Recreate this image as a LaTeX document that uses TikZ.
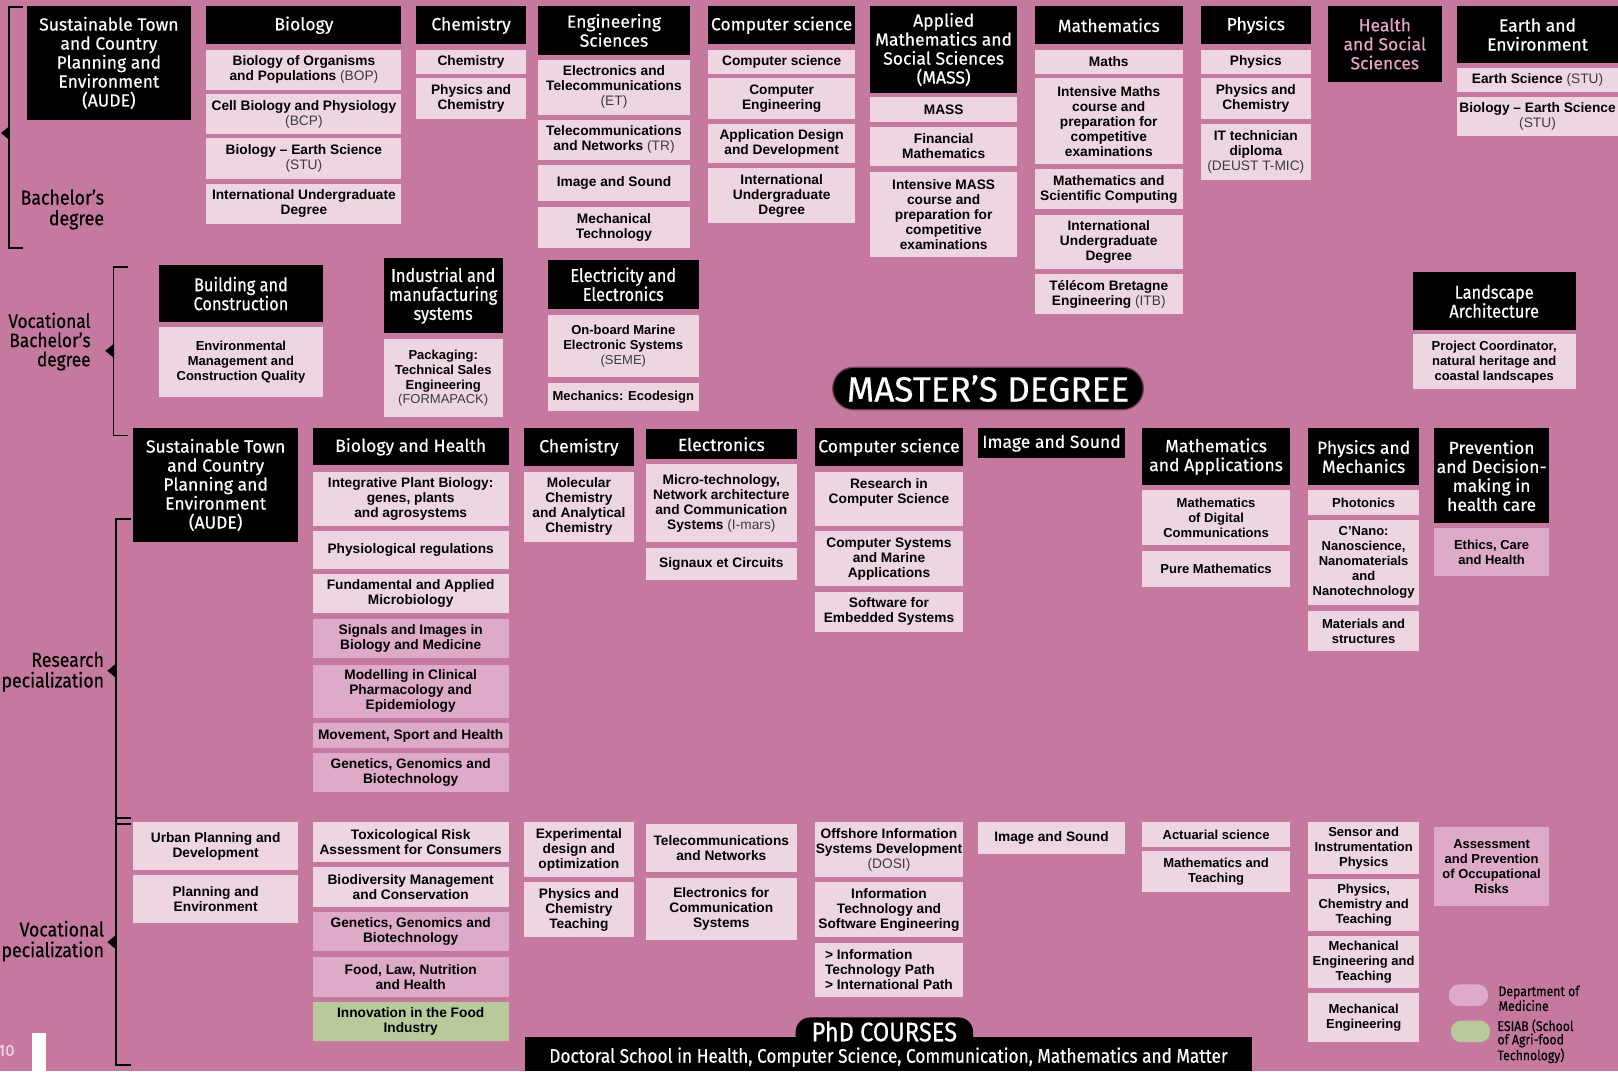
\documentclass[tikz,border=0pt]{standalone}
\usepackage{fontspec}
\setmainfont{Fira Sans}
\newfontfamily\hdf[FakeBold=0.4]{Fira Sans}
\newfontfamily\hdc[FakeStretch=0.88,FakeBold=0.4]{Fira Sans}
\newfontfamily\bdf{Liberation Sans}
\definecolor{cBg}{RGB}{197,121,158}
\definecolor{cLt}{RGB}{237,213,226}
\definecolor{cMed}{RGB}{221,170,199}
\definecolor{cGr}{RGB}{184,201,155}
\definecolor{cHp}{RGB}{232,162,200}
\definecolor{cAc}{RGB}{60,60,60}
\definecolor{cEdge}{RGB}{120,60,90}
\newcommand\ac[1]{{\mdseries\color{cAc}#1}}
\newcommand\mybox[7]{%
  \pgfmathsetmacro\bxw{#4-#2}%
  \pgfmathsetmacro\bxh{#5-#3}%
  \pgfmathsetmacro\bxx{(#2+#4)/2}%
  \pgfmathsetmacro\bxy{(#3+#5)/2}%
  \node[#6,minimum width=\bxw pt,minimum height=\bxh pt] (#1) at (\bxx,\bxy) {#7};}
\begin{document}
\begin{tikzpicture}[x=1pt,y=-1pt,
  hd/.style={fill=black,text=white,align=center,inner sep=0pt,font=\hdf\fontsize{17}{18.4}\selectfont},
  hdn/.style={hd,font=\hdc\fontsize{18}{18.4}\selectfont},
  sb/.style={fill=cLt,text=black,align=center,inner sep=0pt,font=\bdf\bfseries\fontsize{13.3}{14.5}\selectfont},
  sbn/.style={sb,font=\bdf\bfseries\fontsize{12.6}{14.5}\selectfont},
  medbox/.style={sb,fill=cMed},
  grnbox/.style={sb,fill=cGr},
  lbl/.style={align=right,anchor=east,inner sep=0pt,text=black,font=\hdc\fontsize{19.5}{20}\selectfont},
  brk/.style={line width=1.8pt,black},
  tri/.style={fill=black}
]
\useasboundingbox (0,0) rectangle (1568,1038);
\fill[cBg] (0,0) rectangle (1568,1038);

% ---------------- Bachelor's degree ----------------
\mybox{audeB}{26}{6}{185}{116}{hd}{Sustainable Town\\and Country\\Planning and\\Environment\\(AUDE)}
\mybox{bioH}{200}{6}{389}{43}{hd}{Biology}
\mybox{bio1}{200}{48}{389}{87}{sb}{Biology of Organisms\\and Populations \ac{(BOP)}}
\mybox{bio2}{200}{91}{389}{130}{sb}{Cell Biology and Physiology\\\ac{(BCP)}}
\mybox{bio3}{200}{134}{389}{173}{sb}{Biology – Earth Science\\\ac{(STU)}}
\mybox{bio4}{200}{178}{389}{217}{sb}{International Undergraduate\\Degree}

\mybox{chH}{403}{6}{510}{43}{hd}{Chemistry}
\mybox{ch1}{403}{48}{510}{72}{sb}{Chemistry}
\mybox{ch2}{403}{76}{510}{115}{sb}{Physics and\\Chemistry}

\mybox{engH}{521}{6}{669}{53}{hd}{Engineering\\Sciences}
\mybox{eng1}{521}{58}{669}{111}{sb}{Electronics and\\Telecommunications\\\ac{(ET)}}
\mybox{eng2}{521}{116}{669}{155}{sb}{Telecommunications\\and Networks \ac{(TR)}}
\mybox{eng3}{521}{160}{669}{195}{sb}{Image and Sound}
\mybox{eng4}{521}{201}{669}{240}{sb}{Mechanical\\Technology}

\mybox{csH}{686}{6}{829}{43}{hd}{Computer science}
\mybox{cs1}{686}{48}{829}{72}{sb}{Computer science}
\mybox{cs2}{686}{76}{829}{115}{sb}{Computer\\Engineering}
\mybox{cs3}{686}{120}{829}{158}{sb}{Application Design\\and Development}
\mybox{cs4}{686}{163}{829}{216}{sb}{International\\Undergraduate\\Degree}

\mybox{amH}{843}{6}{986}{90}{hd}{Applied\\Mathematics and\\Social Sciences\\(MASS)}
\mybox{am1}{843}{94}{986}{118}{sb}{MASS}
\mybox{am2}{843}{123}{986}{161}{sb}{Financial\\Mathematics}
\mybox{am3}{843}{167}{986}{249}{sb}{Intensive MASS\\course and\\preparation for\\competitive\\examinations}

\mybox{maH}{1003}{6}{1146}{43}{hd}{Mathematics}
\mybox{ma1}{1003}{48}{1146}{72}{sb}{Maths}
\mybox{ma2}{1003}{76}{1146}{159}{sb}{Intensive Maths\\course and\\preparation for\\competitive\\examinations}
\mybox{ma3}{1003}{164}{1146}{203}{sb}{Mathematics and\\Scientific Computing}
\mybox{ma4}{1003}{208}{1146}{261}{sb}{International\\Undergraduate\\Degree}
\mybox{ma5}{1003}{266}{1146}{304}{sb}{Télécom Bretagne\\Engineering \ac{(ITB)}}

\mybox{phH}{1164}{6}{1270}{43}{hd}{Physics}
\mybox{ph1}{1164}{48}{1270}{72}{sb}{Physics}
\mybox{ph2}{1164}{76}{1270}{115}{sb}{Physics and\\Chemistry}
\mybox{ph3}{1164}{120}{1270}{174}{sb}{IT technician\\diploma\\\ac{(DEUST T-MIC)}}

\mybox{hsH}{1287}{6}{1397}{79}{hd,text=cHp}{Health\\and Social\\Sciences}

\mybox{eaH}{1412}{6}{1568}{61}{hd}{Earth and\\Environment}
\mybox{ea1}{1412}{66}{1568}{89}{sb}{Earth Science \ac{(STU)}}
\mybox{ea2}{1412}{94}{1568}{132}{sb}{Biology – Earth Science\\\ac{(STU)}}

% ---------------- Vocational Bachelor's ----------------
\mybox{bcH}{154}{257}{313}{312}{hdn}{Building and\\Construction}
\mybox{bc1}{154}{317}{313}{385}{sbn}{Environmental\\Management and\\Construction Quality}
\mybox{imH}{372}{250}{487}{323}{hdn}{Industrial and\\manufacturing\\systems}
\mybox{im1}{372}{329}{487}{404}{sbn}{Packaging:\\Technical Sales\\Engineering\\\ac{(FORMAPACK)}}
\mybox{eeH}{531}{252}{677}{299}{hdn}{Electricity and\\Electronics}
\mybox{ee1}{531}{305}{677}{365}{sbn}{On-board Marine\\Electronic Systems\\\ac{(SEME)}}
\mybox{ee2}{531}{371}{677}{398}{sbn}{Mechanics: Ecodesign}
\mybox{laH}{1369}{264}{1527}{320}{hdn}{Landscape\\Architecture}
\mybox{la1}{1369}{324}{1527}{377}{sbn}{Project Coordinator,\\natural heritage and\\coastal landscapes}

\node[fill=black,draw=cEdge,line width=1.2pt,rounded corners=20pt,minimum width=301pt,minimum height=41pt,inner sep=0pt,text=white,font=\hdf\fontsize{34}{34}\selectfont] (master) at (957.5,376.5) {MASTER’S DEGREE};

% ---------------- Research specialization ----------------
\mybox{audeM}{129}{415}{289}{525}{hd}{Sustainable Town\\and Country\\Planning and\\Environment\\(AUDE)}
\mybox{bhH}{303}{415}{493}{451}{hd}{Biology and Health}
\mybox{bh1}{303}{457}{493}{510}{sb}{Integrative Plant Biology:\\genes, plants\\and agrosystems}
\mybox{bh2}{303}{515}{493}{551}{sb}{Physiological regulations}
\mybox{bh3}{303}{556}{493}{594}{sb}{Fundamental and Applied\\Microbiology}
\mybox{bh4}{303}{600}{493}{638}{medbox}{Signals and Images in\\Biology and Medicine}
\mybox{bh5}{303}{644}{493}{696}{medbox}{Modelling in Clinical\\Pharmacology and\\Epidemiology}
\mybox{bh6}{303}{701}{493}{725}{medbox}{Movement, Sport and Health}
\mybox{bh7}{303}{730}{493}{768}{medbox}{Genetics, Genomics and\\Biotechnology}

\mybox{chmH}{508}{415}{614}{452}{hd}{Chemistry}
\mybox{chm1}{508}{457}{614}{525}{sb}{Molecular\\Chemistry\\and Analytical\\Chemistry}

\mybox{elH}{626}{416}{772}{445}{hd}{Electronics}
\mybox{el1}{626}{450}{772}{525}{sb}{Micro-technology,\\Network architecture\\and Communication\\Systems \ac{(I-mars)}}
\mybox{el2}{626}{531}{772}{562}{sb}{Signaux et Circuits}

\mybox{cmH}{790}{415}{933}{452}{hd}{Computer science}
\mybox{cm1}{790}{457}{933}{510}{sb}{Research in\\Computer Science\\\mbox{}}
\mybox{cm2}{790}{515}{933}{568}{sb}{Computer Systems\\and Marine\\Applications}
\mybox{cm3}{790}{574}{933}{612}{sb}{Software for\\Embedded Systems}

\mybox{isH}{948}{415}{1090}{444}{hd}{Image and Sound}

\mybox{maaH}{1107}{415}{1250}{470}{hd}{Mathematics\\and Applications}
\mybox{maa1}{1107}{475}{1250}{528}{sbn}{Mathematics\\of Digital\\Communications}
\mybox{maa2}{1107}{534}{1250}{569}{sbn}{Pure Mathematics}

\mybox{pmH}{1268}{415}{1375}{470}{hd}{Physics and\\Mechanics}
\mybox{pm1}{1268}{475}{1375}{499}{sbn}{Photonics}
\mybox{pm2}{1268}{504}{1375}{586}{sbn}{C’Nano:\\Nanoscience,\\Nanomaterials\\and\\Nanotechnology}
\mybox{pm3}{1268}{592}{1375}{631}{sbn}{Materials and\\structures}

\mybox{prH}{1390}{415}{1501}{507}{hd}{Prevention\\and Decision-\\making in\\health care}
\mybox{pr1}{1390}{512}{1501}{558}{medbox,font=\bdf\bfseries\fontsize{12.6}{14.5}\selectfont}{Ethics, Care\\and Health}

% ---------------- Vocational specialization ----------------
\mybox{up1}{129}{797}{289}{843}{sb}{Urban Planning and\\Development}
\mybox{up2}{129}{848}{289}{894}{sb}{Planning and\\Environment}

\mybox{tx1}{303}{797}{493}{835}{sb}{Toxicological Risk\\Assessment for Consumers}
\mybox{tx2}{303}{840}{493}{879}{sb}{Biodiversity Management\\and Conservation}
\mybox{tx3}{303}{884}{493}{922}{medbox}{Genetics, Genomics and\\Biotechnology}
\mybox{tx4}{303}{927}{493}{966}{medbox}{Food, Law, Nutrition\\and Health}
\mybox{tx5}{303}{971}{493}{1009}{grnbox}{Innovation in the Food\\Industry}

\mybox{ex1}{508}{797}{614}{850}{sb}{Experimental\\design and\\optimization}
\mybox{ex2}{508}{855}{614}{908}{sb}{Physics and\\Chemistry\\Teaching}

\mybox{tn1}{626}{799}{772}{845}{sb}{Telecommunications\\and Networks}
\mybox{tn2}{626}{851}{772}{911}{sb}{Electronics for\\Communication\\Systems}

\mybox{of1}{790}{797}{933}{850}{sb}{Offshore Information\\Systems Development\\\ac{(DOSI)}}
\mybox{of2}{790}{855}{933}{908}{sb}{Information\\Technology and\\Software Engineering}
\mybox{of3}{790}{914}{933}{966}{sb,align=left}{> Information\\Technology Path\\> International Path}

\mybox{is2}{948}{797}{1090}{828}{sb}{Image and Sound}

\mybox{ac1}{1107}{797}{1250}{821}{sbn}{Actuarial science}
\mybox{ac2}{1107}{825}{1250}{864}{sbn}{Mathematics and\\Teaching}

\mybox{sp1}{1268}{797}{1375}{847}{sbn}{Sensor and\\Instrumentation\\Physics}
\mybox{sp2}{1268}{852}{1375}{902}{sbn}{Physics,\\Chemistry and\\Teaching}
\mybox{sp3}{1268}{907}{1375}{957}{sbn}{Mechanical\\Engineering and\\Teaching}
\mybox{sp4}{1268}{962}{1375}{1010}{sbn}{Mechanical\\Engineering}

\mybox{as1}{1390}{801}{1501}{878}{medbox,font=\bdf\bfseries\fontsize{12.6}{14.5}\selectfont}{Assessment\\and Prevention\\of Occupational\\Risks}

% ---------------- PhD ----------------
\node[fill=black,rounded corners=14pt,minimum width=172pt,minimum height=36pt,inner sep=0pt] (phdpill) at (857,1004) {};
\node[fill=black,minimum width=704pt,minimum height=33pt,inner sep=0pt] (docbar) at (861,1021.5) {};
\node[inner sep=0pt,text=white,font=\hdc\fontsize{19}{19}\selectfont] (doc) at (861,1024.5) {Doctoral School in Health, Computer Science, Communication, Mathematics and Matter};
\node[inner sep=0pt,text=white,font=\hdc\fontsize{26}{26}\selectfont] (phd) at (857,999.5) {PhD COURSES};

% ---------------- Legend ----------------
\node[fill=cMed,rounded corners=10pt,minimum width=38pt,minimum height=21pt,inner sep=0pt] (legMed) at (1423,964.5) {};
\node[anchor=west,align=left,inner sep=0pt,font=\hdc\fontsize{13.5}{13}\selectfont] (legMedT) at (1452,967.5) {Department of\\Medicine};
\node[fill=cGr,rounded corners=10pt,minimum width=38pt,minimum height=21pt,inner sep=0pt] (legGr) at (1425,999.5) {};
\node[anchor=west,align=left,inner sep=0pt,font=\hdc\fontsize{13.5}{13}\selectfont] (legGrT) at (1451,1009) {ESIAB (School\\of Agri-food\\Technology)};

% ---------------- Brackets and labels ----------------
\draw[brk] (22,7) -- (9,7) -- (9,240) -- (22,240);
\fill[tri] (9.5,122) -- (1,129) -- (9.5,136) -- cycle;
\node[lbl] (lbBach) at (101,203) {Bachelor’s\\degree};

\draw[brk] (124,259) -- (110,259) -- (110,422) -- (124,422);
\fill[tri] (110.5,333) -- (102,340) -- (110.5,347) -- cycle;
\node[lbl,font=\hdc\fontsize{19}{18.6}\selectfont] (lbVB) at (88,331) {Vocational\\Bachelor’s\\degree};

\draw[brk] (127,503) -- (112,503) -- (112,1032) -- (127,1032);
\draw[brk] (112,793) -- (127,793);
\draw[brk] (112,798.5) -- (127,798.5);
\fill[tri] (112.5,643) -- (104,650) -- (112.5,657) -- cycle;
\fill[tri] (112.5,906) -- (104,913) -- (112.5,920) -- cycle;
\node[lbl] (lbRS) at (101,651) {Research\\pecialization};
\node[lbl] (lbVS) at (101,912) {Vocational\\pecialization};

% page number
\node[anchor=west,inner sep=0pt,text=cLt,font=\hdf\fontsize{16}{16}\selectfont] (pg) at (-2,1018) {10};
\node[fill=white,minimum width=14pt,minimum height=37pt,inner sep=0pt] (pgbar) at (38,1019.5) {};
\end{tikzpicture}
\end{document}
